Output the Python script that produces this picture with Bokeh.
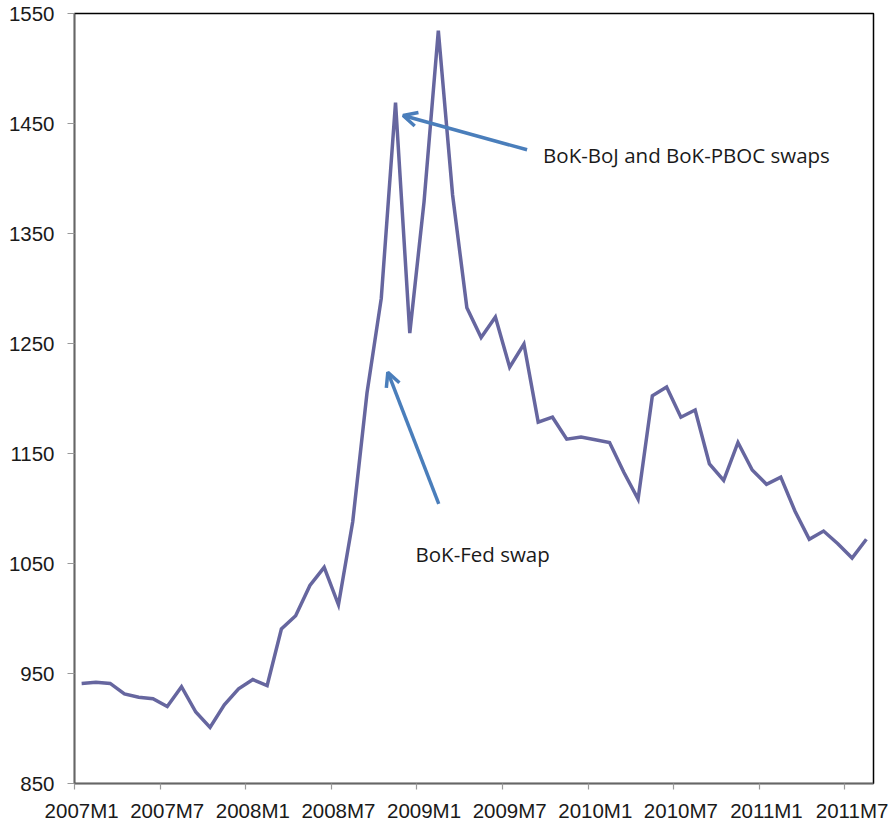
from bokeh.plotting import figure
from bokeh.models import Range1d, FixedTicker, Arrow, OpenHead, ColumnDataSource
from bokeh.core.properties import value
from bokeh.embed import file_html
from bokeh.resources import INLINE

# ---- data ----
months = []
for yr in range(2007, 2012):
    for m in range(1, 13):
        months.append(f"{yr}M{m}")
months = months[:56]  # 2007M1 .. 2011M8

rate = [941, 942, 941, 931.5, 928.5, 927, 920, 938, 915, 901,
        921.5, 936, 944.5, 939, 990.5, 1002.5, 1030, 1046.5, 1012.5, 1088,
        1205, 1291, 1469, 1259.5, 1379, 1534.5, 1385, 1282.5, 1255.5, 1274,
        1228.5, 1249.5, 1178.5, 1183, 1163, 1165, 1162.5, 1160, 1133, 1108.5,
        1202.5, 1210.5, 1183, 1189.5, 1140.5, 1125.5, 1160, 1135, 1122, 1128.5,
        1097.5, 1072, 1079.5, 1068, 1055, 1072]

y_ticks = [850, 950, 1050, 1150, 1250, 1350, 1450, 1550]
label_every = 6

# annotation anchors (data units)
note_texts = ["BoK-BoJ and BoK-PBOC swaps", "BoK-Fed swap"]
note_x = [32.84, 23.9]
note_y = [1421.5, 1058.8]
arrow_tail_x = [31.72, 25.53]
arrow_tail_y = [1426.1, 1104.3]
arrow_tip_x = [23.03, 21.96]
arrow_tip_y = [1457.3, 1223.9]

# ---- figure ----
n = len(rate)
xs = [i + 0.5 for i in range(n)]

p = figure(output_backend="svg", toolbar_location=None,
           frame_width=799, frame_height=770,
           min_border_left=74, min_border_top=13, min_border_right=15, min_border_bottom=35,
           x_range=Range1d(0, n), y_range=Range1d(850, 1550))
p.background_fill_color = "white"
p.border_fill_color = "white"
p.outline_line_color = "black"
p.outline_line_width = 1.5
p.xgrid.visible = False
p.ygrid.visible = False

p.line(xs, rate, line_color="#66669F", line_width=3.5, line_join="miter")

# x axis: labels at category centres, tick marks at category boundaries
lab_pos = [i + 0.5 for i in range(0, n, label_every)]
tick_pos = [i for i in range(0, n, label_every)]
p.xaxis.ticker = FixedTicker(ticks=lab_pos, minor_ticks=tick_pos)
p.xaxis.major_label_overrides = {i + 0.5: months[i] for i in range(0, n, label_every)}
p.xaxis.major_tick_line_color = None
p.xaxis.major_tick_out = 6
p.xaxis.major_tick_in = 0
p.xaxis.minor_tick_line_color = "#999999"
p.xaxis.minor_tick_line_width = 1.2
p.xaxis.minor_tick_out = 6
p.xaxis.minor_tick_in = 0
p.xaxis.major_label_standoff = 9

p.yaxis.ticker = FixedTicker(ticks=y_ticks)
p.yaxis.major_tick_line_color = "#999999"
p.yaxis.major_tick_line_width = 1.2
p.yaxis.major_tick_out = 7
p.yaxis.major_tick_in = 0
p.yaxis.minor_tick_line_color = None
p.yaxis.major_label_standoff = 13

for ax in (p.xaxis, p.yaxis):
    ax.axis_line_color = "#666666"
    ax.axis_line_width = 1.5
    ax.major_label_text_font = "Liberation Sans"
    ax.major_label_text_font_size = "20.5px"
    ax.major_label_text_color = "#1a1a1a"

# annotations
for tx, ty, hx, hy in zip(arrow_tail_x, arrow_tail_y, arrow_tip_x, arrow_tip_y):
    p.add_layout(Arrow(x_start=tx, y_start=ty, x_end=hx, y_end=hy,
                       line_color="#4A7EBB", line_width=3.5,
                       end=OpenHead(size=14, line_color="#4A7EBB", line_width=3.5)))

src = ColumnDataSource(dict(x=note_x, y=note_y, t=note_texts))
p.text(x="x", y="y", text="t", source=src, text_font=value("Open Sans"),
       text_font_size="20.5px", text_color="#1a1a1a", text_baseline="alphabetic",
       text_align="left")

open("out.html", "w").write(file_html(p, INLINE))
